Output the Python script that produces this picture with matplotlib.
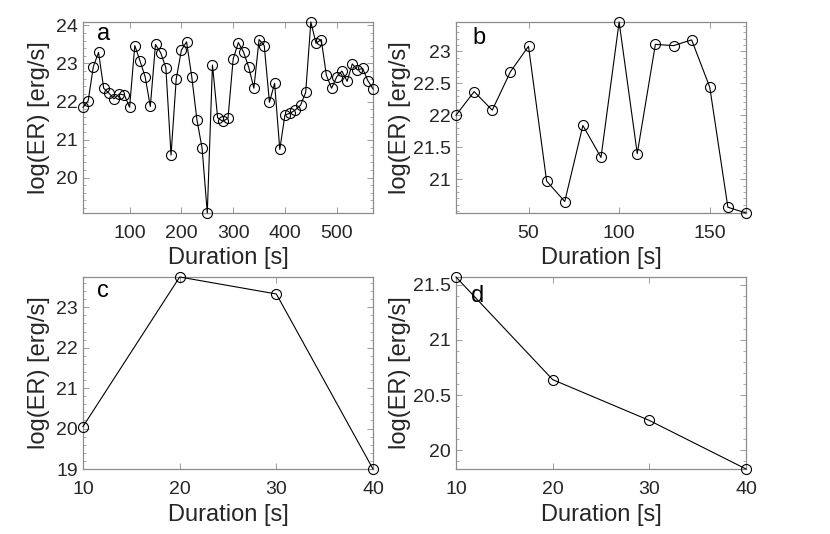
import numpy as np
import matplotlib
matplotlib.use('Agg')
import matplotlib.pyplot as plt
from matplotlib.ticker import AutoMinorLocator

plt.rcParams['font.family'] = ['Liberation Sans', 'DejaVu Sans']
plt.rcParams['font.size'] = 14

# panel a
dur_a = [10, 20, 30, 40, 50, 60, 70, 80, 90, 100,
         110, 120, 130, 140, 150, 160, 170, 180, 190, 200,
         210, 220, 230, 240, 250, 260, 270, 280, 290, 300,
         310, 320, 330, 340, 350, 360, 370, 380, 390, 400,
         410, 420, 430, 440, 450, 460, 470, 480, 490, 500,
         510, 520, 530, 540, 550, 560, 570]
er_a = [21.85, 22.02, 22.92, 23.29, 22.35, 22.22, 22.07, 22.20, 22.17, 21.85,
        23.47, 23.07, 22.65, 21.87, 23.50, 23.28, 22.89, 20.59, 22.59, 23.35,
        23.57, 22.65, 21.52, 20.77, 19.07, 22.96, 21.57, 21.48, 21.56, 23.12,
        23.55, 23.30, 22.90, 22.35, 23.63, 23.47, 21.98, 22.48, 20.74, 21.65,
        21.69, 21.78, 21.90, 22.24, 24.09, 23.53, 23.63, 22.69, 22.35, 22.65,
        22.80, 22.53, 22.99, 22.83, 22.87, 22.55, 22.33]

# panel b
dur_b = [10, 20, 30, 40, 50, 60, 70, 80, 90, 100, 110, 120, 130, 140, 150, 160, 170]
er_b = [22.00, 22.37, 22.08, 22.68, 23.08, 20.97, 20.65, 21.84, 21.34, 23.46,
        21.40, 23.11, 23.09, 23.18, 22.44, 20.56, 20.47]

# panels c, d
dur_c = [10, 20, 30, 40]
er_c = [20.05, 23.75, 23.33, 19.00]
dur_d = [10, 20, 30, 40]
er_d = [21.57, 20.64, 20.27, 19.83]

letters = ['a', 'b', 'c', 'd']
xticks = [[100, 200, 300, 400, 500], [50, 100, 150], [10, 20, 30, 40], [10, 20, 30, 40]]
yticks = [[20, 21, 22, 23, 24], [21, 21.5, 22, 22.5, 23], [19, 20, 21, 22, 23], [20, 20.5, 21, 21.5]]
ytlabels = [['20', '21', '22', '23', '24'], ['21', '21.5', '22', '22.5', '23'],
            ['19', '20', '21', '22', '23'], ['20', '20.5', '21', '21.5']]

fig = plt.figure(figsize=(8.3, 5.34), dpi=100)
w = 290 / 830
pos = [[83 / 830, 321 / 534, w, 191 / 534],
       [456 / 830, 321 / 534, w, 191 / 534],
       [83 / 830, 65 / 534, w, 192 / 534],
       [456 / 830, 65 / 534, w, 192 / 534]]
letter_pos = [(0.048, 0.995), (0.055, 0.974), (0.048, 0.984), (0.052, 0.958)]
data = [(dur_a, er_a), (dur_b, er_b), (dur_c, er_c), (dur_d, er_d)]
edge = '#8c8c8c'
txt = '#262626'

for i in range(4):
    ax = fig.add_axes(pos[i])
    x, y = data[i]
    ax.plot(x, y, '-', color='k', lw=0.8, marker='o', ms=7.2, mfc='none',
            mec='k', mew=0.8, clip_on=False, zorder=3)
    ax.set_xlim(min(x), max(x))
    ax.set_ylim(min(y), max(y))
    ax.set_xticks(xticks[i])
    ax.set_yticks(yticks[i])
    ax.set_yticklabels(ytlabels[i])
    ax.yaxis.set_minor_locator(AutoMinorLocator(5))
    ax.tick_params(which='both', direction='in', top=True, right=True,
                   color=edge, labelcolor=txt, labelsize=14)
    ax.tick_params(which='major', length=4, width=0.6)
    ax.tick_params(which='minor', length=2, width=0.5)
    ax.tick_params(axis='x', pad=9)
    for s in ax.spines.values():
        s.set_color(edge)
        s.set_linewidth(0.9)
    ax.set_xlabel('Duration [s]', color=txt, fontsize=17)
    ax.set_ylabel('log(ER) [erg/s]', color=txt, fontsize=17)
    if i % 2 == 0:
        ax.yaxis.set_label_coords(-0.114, 0.5)
    else:
        ax.yaxis.set_label_coords(-0.155, 0.5)
    ax.xaxis.set_label_coords(0.5, -0.18)
    ax.text(letter_pos[i][0], letter_pos[i][1], letters[i], transform=ax.transAxes,
            ha='left', va='top', fontsize=17, color='k')

fig.savefig('out.png', dpi=100)
